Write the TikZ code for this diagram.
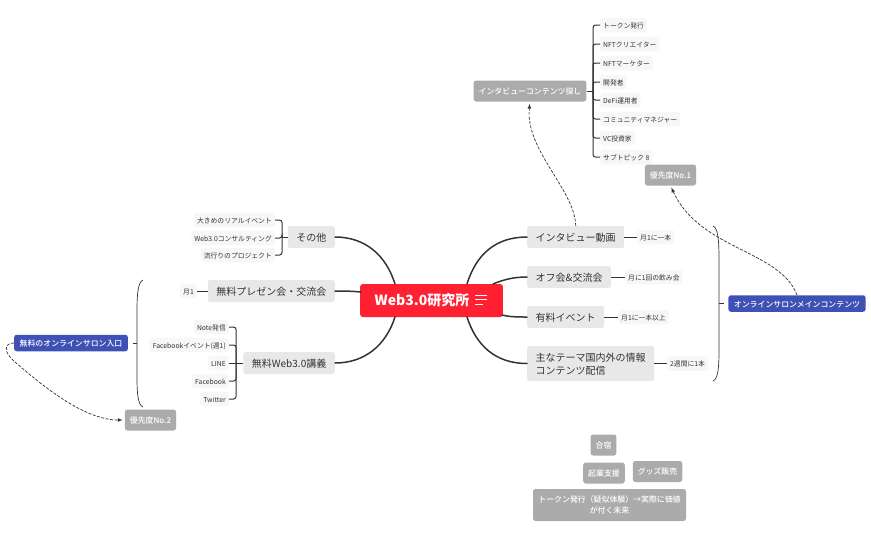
\documentclass[tikz,border=0pt]{standalone}
\usepackage{fontspec}
\usepackage{xcolor}
\setmainfont{Noto Sans CJK JP}
\newfontfamily\mediumfont{Noto Sans CJK JP Medium}
\definecolor{rootred}{HTML}{FF2132}
\definecolor{mainblue}{HTML}{3F51B5}
\definecolor{inkline}{HTML}{333333}
\tikzset{
basebox/.style={rounded corners=2.5pt, align=left, text=black!80},
rootbox/.style={basebox, fill=rootred, text=white, font=\fontsize{14}{16}\selectfont\bfseries, inner xsep=14.5pt, inner ysep=0pt, minimum height=33pt, text height=12.3pt, text depth=1.7pt},
mainbox/.style={basebox, fill=black!9, font=\fontsize{10}{13}\selectfont, inner xsep=8.5pt, inner ysep=0pt, minimum height=22pt, text height=9.4pt, text depth=0.6pt},
leafbox/.style={basebox, fill=black!3, font=\fontsize{6.8}{8}\selectfont, inner xsep=3pt, inner ysep=0pt, minimum height=14.5pt, text height=6.6pt, text depth=0.2pt},
greybox/.style={basebox, fill=black!33, text=white, align=center, font=\fontsize{7.9}{11}\selectfont\mediumfont, inner xsep=5pt, inner ysep=0pt, minimum height=21pt, text height=7pt, text depth=1pt},
bluebox/.style={basebox, fill=mainblue, text=white, font=\fontsize{7.9}{10}\selectfont\mediumfont, inner xsep=5.5pt, inner ysep=0pt, minimum height=16.5pt, text height=7.6pt, text depth=0.4pt},
trunk/.style={draw=inkline, line width=1.5pt, line cap=round},
twig/.style={draw=inkline, line width=1pt, rounded corners=2.5pt},
curly/.style={draw=inkline, line width=0.7pt},
jump/.style={draw=inkline, line width=0.7pt, dash pattern=on 3pt off 1.5pt, -latex, shorten >=2pt}
}
\begin{document}
\begin{tikzpicture}[x=1pt,y=-1pt]
\useasboundingbox (0,0) rectangle (871,539);
\node[rootbox] (root) at (431.5,300.5) {Web3.0研究所\hspace{19pt}};
\draw[white, line width=0.8pt] (475,295) -- (487,295);
\draw[white, line width=0.8pt] (475,299.5) -- (487,299.5);
\draw[white, line width=0.8pt] (475,304) -- (483,304);

\coordinate (rootne) at (467,284);
\coordinate (rootee) at (493,284);
\coordinate (rootes) at (502,315);
\coordinate (rootse) at (467,317);
\coordinate (rootnw) at (395,284);
\coordinate (rootww) at (361,292);
\coordinate (rootsw) at (395,317);

\node[mainbox, anchor=west] (video) at (527,237) {インタビュー動画};
\node[mainbox, anchor=west] (meetup) at (527,277) {オフ会\&交流会};
\node[mainbox, anchor=west] (event) at (527,317) {有料イベント};
\node[mainbox, anchor=west, minimum height=35pt, text height=22.4pt] (theme) at (527,363.5) {主なテーマ国内外の情報\\コンテンツ配信};
\node[mainbox, anchor=east] (other) at (335,237) {その他};
\node[mainbox, anchor=east] (talk) at (335,291) {無料プレゼン会・交流会};
\node[mainbox, anchor=east] (lecture) at (335,363) {無料Web3.0講義};

\draw[trunk] (rootne) .. controls (476,255) and (495,237) .. (video.west);
\draw[trunk] (rootee) .. controls (505,279) and (515,277) .. (meetup.west);
\draw[trunk] (rootes) .. controls (510,317) and (518,317) .. (event.west);
\draw[trunk] (rootse) .. controls (476,345) and (495,363.5) .. (theme.west);
\draw[trunk] (rootnw) .. controls (386,255) and (365,237) .. (other.east);
\draw[trunk] (rootww) .. controls (350,291) and (343,291) .. (talk.east);
\draw[trunk] (rootsw) .. controls (386,345) and (365,363) .. (lecture.east);

\node[leafbox, anchor=west] (videoleaf) at (637,237) {月1に一本};
\node[leafbox, anchor=west] (meetupleaf) at (625,277) {月に1回の飲み会};
\node[leafbox, anchor=west] (eventleaf) at (618,317) {月1に一本以上};
\node[leafbox, anchor=west] (themeleaf) at (667,363.5) {2週間に1本};
\draw[twig] (video.east) -- (videoleaf.west);
\draw[twig] (meetup.east) -- (meetupleaf.west);
\draw[twig] (event.east) -- (eventleaf.west);
\draw[twig] (theme.east) -- (themeleaf.west);

\node[leafbox, anchor=east] (bigevent) at (275,220) {大きめのリアルイベント};
\node[leafbox, anchor=east] (consult) at (275,238) {Web3.0コンサルティング};
\node[leafbox, anchor=east] (trend) at (275,255) {流行りのプロジェクト};
\coordinate (othertrunk) at (282,237);
\draw[twig] (other.west) -- (othertrunk);
\draw[twig] (bigevent.east) -| (othertrunk);
\draw[twig] (consult.east) -| (othertrunk);
\draw[twig] (trend.east) -| (othertrunk);

\node[leafbox, anchor=east] (monthly) at (197,291) {月1};
\draw[twig] (talk.west) -- (monthly.east);

\node[leafbox, anchor=east] (note) at (229,327) {Note発信};
\node[leafbox, anchor=east] (fbevent) at (229,345) {Facebookイベント(週1)};
\node[leafbox, anchor=east] (line) at (229,363) {LINE};
\node[leafbox, anchor=east] (fb) at (229,381) {Facebook};
\node[leafbox, anchor=east] (twitter) at (229,399) {Twitter};
\coordinate (lecturetrunk) at (236,363);
\draw[twig] (lecture.west) -- (line.east);
\draw[twig] (note.east) -| (lecturetrunk);
\draw[twig] (fbevent.east) -| (lecturetrunk);
\draw[twig] (fb.east) -| (lecturetrunk);
\draw[twig] (twitter.east) -| (lecturetrunk);

\node[greybox] (search) at (530,91) {インタビューコンテンツ探し};
\node[leafbox, anchor=west] (token) at (600,25) {トークン発行};
\node[leafbox, anchor=west] (creator) at (600,44) {NFTクリエイター};
\node[leafbox, anchor=west] (marketer) at (600,63) {NFTマーケター};
\node[leafbox, anchor=west] (developer) at (600,82) {開発者};
\node[leafbox, anchor=west] (defi) at (600,100) {DeFi運用者};
\node[leafbox, anchor=west] (manager) at (600,119) {コミュニティマネジャー};
\node[leafbox, anchor=west] (vc) at (600,138) {VC投資家};
\node[leafbox, anchor=west] (subtopic) at (600,157) {サブトピック 8};
\coordinate (searchtrunk) at (593,91);
\draw[twig] (search.east) -- (searchtrunk);
\draw[twig] (token.west) -| (searchtrunk);
\draw[twig] (creator.west) -| (searchtrunk);
\draw[twig] (marketer.west) -| (searchtrunk);
\draw[twig] (developer.west) -| (searchtrunk);
\draw[twig] (defi.west) -| (searchtrunk);
\draw[twig] (manager.west) -| (searchtrunk);
\draw[twig] (vc.west) -| (searchtrunk);
\draw[twig] (subtopic.west) -| (searchtrunk);

\node[greybox] (first) at (670.5,175) {優先度No.1};
\node[greybox] (second) at (150.5,420) {優先度No.2};
\node[bluebox] (mainsalon) at (797,303.5) {オンラインサロンメインコンテンツ};
\node[bluebox] (entrance) at (71,343) {無料のオンラインサロン入口};

\coordinate (mainbrace) at (719,303.5);
\coordinate (entrybrace) at (137,343);
\draw[curly] (713,226) .. controls (718,228) and (719,240) .. (719,260) -- (mainbrace) -- (719,350) .. controls (719,368) and (718,379) .. (713,381);
\draw[curly] (143,280) .. controls (138,282) and (137,294) .. (137,310) -- (entrybrace) -- (137,378) .. controls (137,394) and (138,405) .. (143,407);
\draw[curly, shorten <=4.5pt] (mainsalon.west) -- (mainbrace);
\draw[curly, shorten <=5pt] (entrance.east) -- (entrybrace);

\draw[jump] (video.north) .. controls (575,190) and (525,150) .. (search.south);
\draw[jump] (mainsalon.north) .. controls (780,250) and (700,250) .. (first.south);
\draw[jump] (entrance.west) .. controls (4,343) and (3,352) .. (15,362) .. controls (45,388) and (85,420) .. (second.west);

\node[greybox] (camp) at (603.5,445) {合宿};
\node[greybox] (startup) at (604,473) {起業支援};
\node[greybox] (goods) at (657.5,471.5) {グッズ販売};
\node[greybox, minimum height=32pt, minimum width=153pt, text height=18pt] (future) at (609.5,505) {トークン発行（疑似体験）→実際に価値\\が付く未来};
\end{tikzpicture}
\end{document}
